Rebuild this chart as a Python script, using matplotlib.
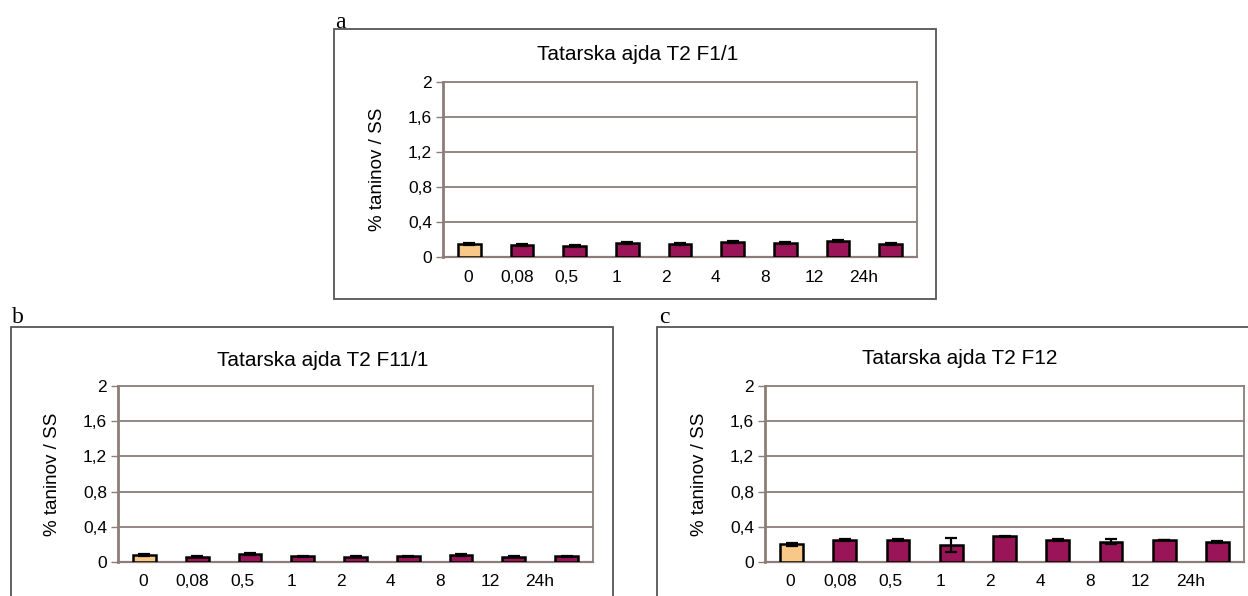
import numpy as np
import matplotlib
matplotlib.use("Agg")
import matplotlib.pyplot as plt
from matplotlib.patches import Rectangle

# ---- data ----
categories = ["0", "0,08", "0,5", "1", "2", "4", "8", "12", "24h"]
yticks = [0, 0.4, 0.8, 1.2, 1.6, 2.0]
ytick_labels = ["0", "0,4", "0,8", "1,2", "1,6", "2"]

titles = ["Tatarska ajda T2 F1/1", "Tatarska ajda T2 F11/1", "Tatarska ajda T2 F12"]
panel_letters = ["a", "b", "c"]

values_a = [0.15, 0.14, 0.13, 0.16, 0.15, 0.17, 0.16, 0.18, 0.15]
errors_a = [0.015, 0.012, 0.01, 0.01, 0.01, 0.015, 0.01, 0.01, 0.015]

values_b = [0.08, 0.06, 0.09, 0.065, 0.06, 0.065, 0.08, 0.06, 0.065]
errors_b = [0.008, 0.005, 0.012, 0.006, 0.005, 0.006, 0.01, 0.005, 0.005]

values_c = [0.20, 0.25, 0.25, 0.19, 0.29, 0.25, 0.23, 0.25, 0.23]
errors_c = [0.02, 0.015, 0.015, 0.08, 0.005, 0.01, 0.03, 0.005, 0.01]

ylabel = "% taninov / SS"

# ---- styles ----
W, H = 1248, 596
fig = plt.figure(figsize=(W / 100, H / 100), dpi=100)
fig.patch.set_facecolor("white")

FONT = ["Liberation Sans", "DejaVu Sans"]
SERIF = ["Liberation Serif", "DejaVu Serif"]
control_color = "#F8C889"
treat_color = "#9A1458"
grid_color = "#8C7D78"
box_color = "#555555"


def px_rect(l, t, r, b):
    return [l / W, 1 - b / H, (r - l) / W, (b - t) / H]


panels = [
    dict(ax=(443, 82, 917, 257), box=(334, 29, 936, 299), letter=(335, 22),
         title_xy=(638, 55), vals=values_a, errs=errors_a),
    dict(ax=(118, 386, 593, 562), box=(11, 327, 613, 640), letter=(12, 318),
         title_xy=(323, 360), vals=values_b, errs=errors_b),
    dict(ax=(765, 386, 1244, 562), box=(657, 327, 1270, 640), letter=(659, 318),
         title_xy=(960, 358), vals=values_c, errs=errors_c),
]

label_shift = np.arange(len(categories)) * 0.94 - 0.03

for p, title, letter in zip(panels, titles, panel_letters):
    # outer box
    l, t, r, b = p["box"]
    fig.patches.append(Rectangle((l / W, 1 - b / H), (r - l) / W, (b - t) / H,
                                 transform=fig.transFigure, fill=False,
                                 edgecolor=box_color, linewidth=1.3, zorder=0))
    fig.text(p["letter"][0] / W, 1 - p["letter"][1] / H, letter,
             family=SERIF, fontsize=17, ha="left", va="center")
    fig.text(p["title_xy"][0] / W, 1 - p["title_xy"][1] / H, title,
             family=FONT, fontsize=15, ha="center", va="center")

    ax = fig.add_axes(px_rect(*p["ax"]))
    x = np.arange(len(categories))
    colors = [control_color] + [treat_color] * (len(categories) - 1)
    ax.bar(x, p["vals"], width=0.43, color=colors, edgecolor="black",
           linewidth=1.8, zorder=3)
    ax.errorbar(x, p["vals"], yerr=p["errs"], fmt="none", ecolor="black",
                elinewidth=1.6, capsize=4, capthick=1.6, zorder=4)

    ax.set_xlim(-0.5, len(categories) - 0.5)
    ax.set_ylim(0, 2)
    ax.set_yticks(yticks)
    ax.set_yticklabels(ytick_labels, family=FONT, fontsize=12.5)
    ax.set_xticks(label_shift)
    ax.set_xticklabels(categories, family=FONT, fontsize=12.5)
    ax.tick_params(axis="x", length=0, pad=9)
    ax.tick_params(axis="y", length=5, width=1, color=grid_color, pad=3)
    for g in yticks[1:-1]:
        ax.axhline(g, color=grid_color, linewidth=1.3, zorder=1)
    for side in ["top", "right"]:
        ax.spines[side].set_color(grid_color)
        ax.spines[side].set_linewidth(1.3)
    ax.spines["left"].set_color(grid_color)
    ax.spines["left"].set_linewidth(2.0)
    ax.spines["bottom"].set_color(grid_color)
    ax.spines["bottom"].set_linewidth(1.6)
    ax.set_ylabel(ylabel, family=FONT, fontsize=13.5, labelpad=16)

fig.savefig("out.png", dpi=100, facecolor="white")
